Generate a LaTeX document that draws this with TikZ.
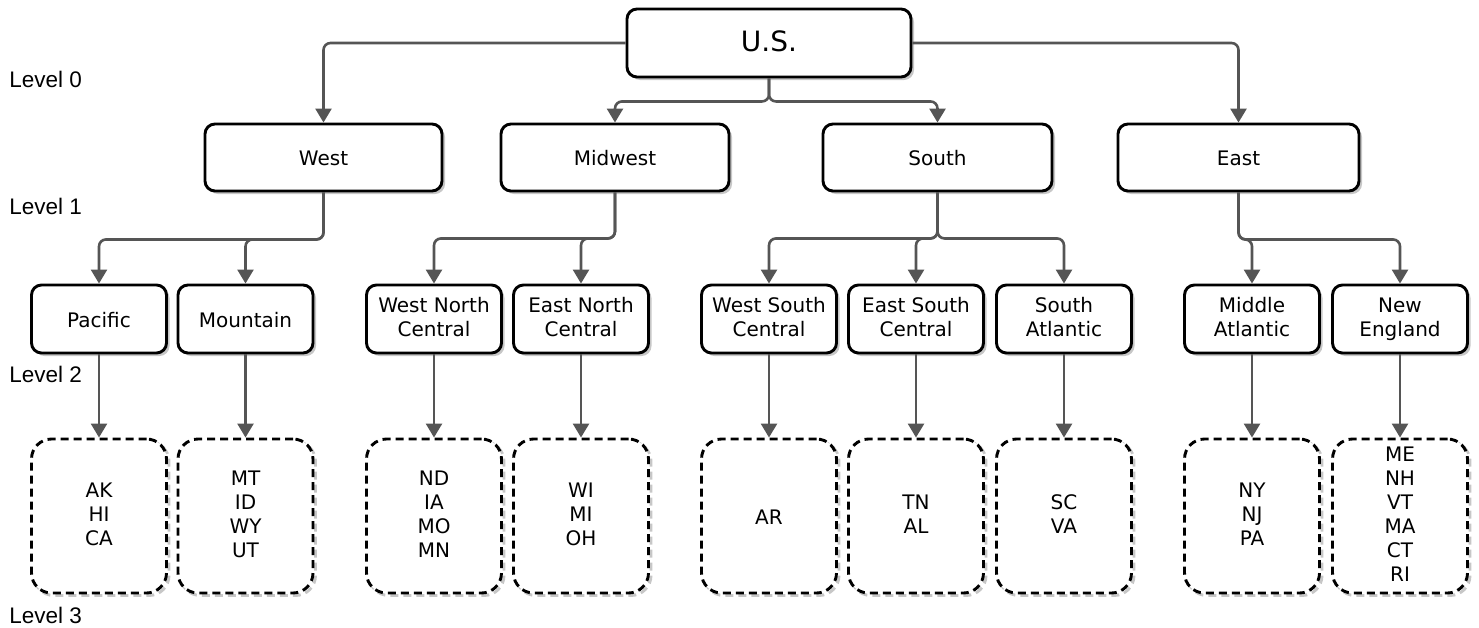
\documentclass[tikz,border=0pt]{standalone}
\usepackage{fontspec}
\setmainfont{DejaVu Sans}
\newfontfamily\levelfont{Liberation Sans}
\usetikzlibrary{arrows.meta,shadows}
\definecolor{wiregray}{HTML}{555555}
\newcommand\linestrut{\rule[-4pt]{0pt}{24pt}}
\tikzset{every picture/.style={line width=0.75pt}}

\begin{document}
\begin{tikzpicture}[x=1pt, y=-1pt,
    box/.style={draw, fill=white, line width=2.9pt, rounded corners=10pt,
        drop shadow={shadow xshift=3pt, shadow yshift=-3pt, fill=black!22, opacity=1},
        align=center, inner sep=0pt, minimum height=68pt, minimum width=135pt,
        font=\fontsize{20}{24}\selectfont,
        execute at begin node=\linestrut, execute at end node=\linestrut},
    statebox/.style={draw, fill=white, line width=2.9pt, rounded corners=20pt,
        dash pattern=on 8pt off 5pt,
        preaction={draw=black!22, transform canvas={shift={(2.5pt,-2.5pt)}}},
        align=center, inner sep=0pt, minimum height=154pt, minimum width=135pt,
        font=\fontsize{20}{24}\selectfont,
        execute at begin node=\linestrut, execute at end node=\linestrut},
    wire/.style={draw=wiregray, line width=2.6pt, rounded corners=7pt,
        -{Triangle[width=16pt,length=14pt]}},
    level/.style={anchor=base west, inner sep=0pt, font=\levelfont\fontsize{22.5}{26}\selectfont}]
        \useasboundingbox (0,0) rectangle (1479,627);
        % raiz
        \node[box, minimum width=284pt, font=\fontsize{28}{30}\selectfont,
            execute at begin node={}, execute at end node={}] (us) at (769,43) {U.S.};
        % regiões
        \node[box, minimum width=237pt, minimum height=67pt] (west) at (323.5,157.5) {West};
        \node[box, minimum width=228pt, minimum height=67pt] (midwest) at (615,157.5) {Midwest};
        \node[box, minimum width=229pt, minimum height=67pt] (south) at (937.5,157.5) {South};
        \node[box, minimum width=241pt, minimum height=67pt] (east) at (1238.5,157.5) {East};
        % divisões
        \node[box] (pacific) at (99,319) {Pacific};
        \node[box] (mountain) at (245.5,319) {Mountain};
        \node[box] (wnc) at (434,319) {West North\\Central};
        \node[box] (enc) at (581,319) {East North\\Central};
        \node[box] (wsc) at (769,319) {West South\\Central};
        \node[box] (esc) at (916,319) {East South\\Central};
        \node[box] (sa) at (1064,319) {South\\Atlantic};
        \node[box] (ma) at (1252,319) {Middle\\Atlantic};
        \node[box] (ne) at (1400,319) {New\\England};
        % estados
        \node[statebox] (pacificst) at (99,516) {AK\\HI\\CA};
        \node[statebox] (mountainst) at (245.5,516) {MT\\ID\\WY\\UT};
        \node[statebox] (wncst) at (434,516) {ND\\IA\\MO\\MN};
        \node[statebox] (encst) at (581,516) {WI\\MI\\OH};
        \node[statebox] (wscst) at (769,516) {AR};
        \node[statebox] (escst) at (916,516) {TN\\AL};
        \node[statebox] (sast) at (1064,516) {SC\\VA};
        \node[statebox] (mast) at (1252,516) {NY\\NJ\\PA};
        \node[statebox] (nest) at (1400,516) {ME\\NH\\VT\\MA\\CT\\RI};
        % ligações
        \draw[wire] (us.west) -| (west.north);
        \draw[wire] (us.east) -| (east.north);
        \draw[wire] (us.south) -- ++(0,23) -| (midwest.north);
        \draw[wire] (us.south) -- ++(0,23) -| (south.north);
        \draw[wire] (west.south) -- ++(0,47) -| (pacific.north);
        \draw[wire] (west.south) -- ++(0,47) -| (mountain.north);
        \draw[wire] (midwest.south) -- ++(0,46) -| (wnc.north);
        \draw[wire] (midwest.south) -- ++(0,46) -| (enc.north);
        \draw[wire] (south.south) -- ++(0,46) -| (wsc.north);
        \draw[wire] (south.south) -- ++(0,46) -| (esc.north);
        \draw[wire] (south.south) -- ++(0,46) -| (sa.north);
        \draw[wire] (east.south) -- ++(0,47) -| (ma.north);
        \draw[wire] (east.south) -- ++(0,47) -| (ne.north);
        \foreach \d in {pacific, mountain, wnc, enc, wsc, esc, sa, ma, ne}
            \draw[wire] (\d.south) -- (\d st.north);
        % níveis
        \node[level] (lv0) at (9,87) {Level 0};
        \node[level] (lv1) at (9,214) {Level 1};
        \node[level] (lv2) at (9,382) {Level 2};
        \node[level] (lv3) at (9,623) {Level 3};
    \end{tikzpicture}
\end{document}
